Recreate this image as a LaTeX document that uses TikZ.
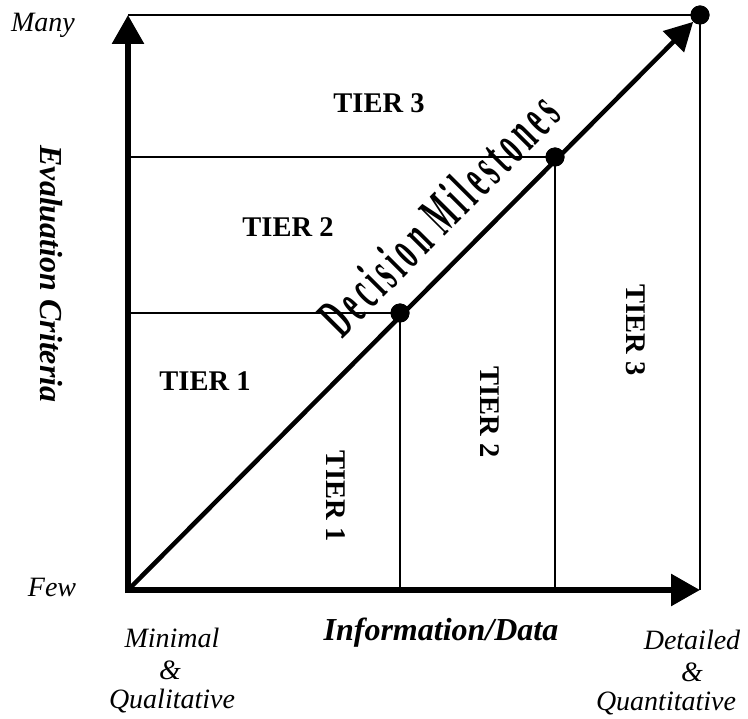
\documentclass[tikz,border=0pt]{standalone}
\usepackage{fontspec}
\setmainfont{Liberation Serif}
\newfontfamily\dmfont{Liberation Serif}[FakeStretch=0.47,LetterSpace=8.5]
\usetikzlibrary{arrows.meta}
\begin{document}
\begin{tikzpicture}[x=1pt,y=-1pt,
  thinline/.style={line width=2pt},
  axisline/.style={line width=6pt,-{Triangle[length=29pt,width=31pt]}},
  diagline/.style={line width=4.5pt,-{Triangle[length=28pt,width=29pt]}},
  milestone/.style={circle,fill,inner sep=0pt,minimum size=19pt},
  tier/.style={font=\fontsize{28.5}{34}\selectfont\bfseries,inner sep=0pt},
  lbl/.style={font=\fontsize{28}{33}\selectfont\itshape,inner sep=0pt},
  axtitle/.style={font=\fontsize{32}{38}\selectfont\bfseries\itshape,inner sep=0pt}]
\path[use as bounding box] (0,0) rectangle (748,719);
% key points
\coordinate (O) at (128,590);
\coordinate (Ytop) at (128,15);
\coordinate (Xend) at (700,590);
\coordinate (H1) at (128,313);
\coordinate (H2) at (128,157);
\coordinate (V1) at (400,590);
\coordinate (V2) at (555,590);
\node[milestone] (d1) at (400,313) {};
\node[milestone] (d2) at (555,157) {};
\node[milestone] (d3) at (700,15) {};
% thin grid lines
\draw[thinline] (H1) -- (d1.center) -- (V1);
\draw[thinline] (H2) -- (d2.center) -- (V2);
\draw[thinline] (Ytop) -- (d3.center) -- (Xend);
% axes
\draw[axisline] ([yshift=-3pt]O) -- (Ytop);
\draw[axisline] (O) -- (Xend);
% diagonal
\draw[diagline] (O) -- (d3);
\node[milestone] at (d1) {};
\node[milestone] at (d2) {};
\node[milestone] at (d3) {};
% decision milestones
\node[inner sep=0pt,anchor=south,rotate=45.15,
  font=\fontsize{58}{66}\selectfont\dmfont\bfseries] (dm) at (453,229)
  {Decision Milestones};
% tier labels
\node[tier,anchor=base] (t3h) at (379,113) {TIER 3};
\node[tier,anchor=base] (t2h) at (288,237) {TIER 2};
\node[tier,anchor=base] (t1h) at (205,391) {TIER 1};
\node[tier,rotate=-90] (t1v) at (336,496) {TIER 1};
\node[tier,rotate=-90] (t2v) at (490,412) {TIER 2};
\node[tier,rotate=-90] (t3v) at (636,330) {TIER 3};
% axis labels
\node[lbl,anchor=base] (many) at (43,32) {Many};
\node[lbl,anchor=base] (few) at (52,597) {Few};
\node[axtitle,rotate=-90] (eval) at (51,274) {Evaluation Criteria};
\node[axtitle,anchor=base] (info) at (441,640) {Information/Data};
\node[lbl,anchor=base] (minA) at (172,647) {Minimal};
\node[lbl,anchor=base] (minB) at (170,679) {\&};
\node[lbl,anchor=base] (minC) at (172,708) {Qualitative};
\node[lbl,anchor=base] (detA) at (692,649) {Detailed};
\node[lbl,anchor=base] (detB) at (692,681) {\&};
\node[lbl,anchor=base] (detC) at (666,710) {Quantitative};
\end{tikzpicture}
\end{document}
